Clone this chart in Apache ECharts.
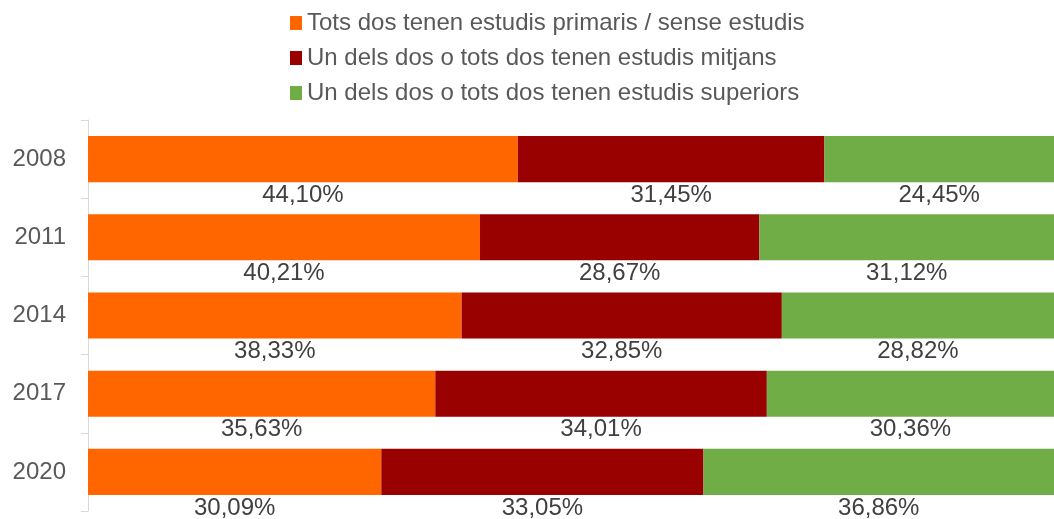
<!DOCTYPE html>
<html>
<head>
<meta charset="utf-8">
<script src="https://cdn.jsdelivr.net/npm/echarts@6/dist/echarts.min.js"></script>
<style>
  html, body { margin: 0; padding: 0; background: #fff; }
  #chart { width: 1054px; height: 519px; }
</style>
</head>
<body>
<div id="chart"></div>
<script>
// categories (top to bottom)
var years = ['2008', '2011', '2014', '2017', '2020'];
var seriesNames = [
    'Tots dos tenen estudis primaris / sense estudis',
    'Un dels dos o tots dos tenen estudis mitjans',
    'Un dels dos o tots dos tenen estudis superiors'
];
// percentages
var primaris = [44.10, 40.21, 38.33, 35.63, 30.09];
var mitjans = [31.45, 28.67, 32.85, 34.01, 33.05];
var superiors = [24.45, 31.12, 28.82, 30.36, 36.86];
var colors = ['#FF6600', '#990000', '#70AD47'];

var chart = echarts.init(document.getElementById('chart'));

function fmt(p) {
    return p.value.toFixed(2).replace('.', ',') + '%';
}

function makeSeries(name, data, color) {
    return {
        name: name,
        type: 'bar',
        stack: 'total',
        data: data,
        barCategoryGap: '41%',
        itemStyle: { color: color },
        label: {
            show: true,
            position: 'bottom',
            distance: 1,
            formatter: fmt,
            color: '#404040',
            fontSize: 24,
            fontFamily: 'Liberation Sans, Arial, sans-serif'
        }
    };
}

var option = {
    animation: false,
    backgroundColor: '#ffffff',
    legend: {
        orient: 'vertical',
        left: 285,
        top: 6,
        itemWidth: 12,
        itemHeight: 14,
        itemGap: 11,
        data: seriesNames,
        icon: 'rect',
        textStyle: {
            color: '#595959',
            fontSize: 24,
            fontFamily: 'Liberation Sans, Arial, sans-serif'
        }
    },
    grid: {
        left: 88,
        top: 120,
        right: 0,
        height: 391
    },
    // the plot area runs a little past the right edge of the picture
    xAxis: {
        type: 'value',
        min: 0,
        max: 99.1,
        show: false
    },
    yAxis: {
        type: 'category',
        data: years,
        inverse: true,
        axisLine: { show: true, lineStyle: { color: '#d9d9d9', width: 1 } },
        axisTick: { show: true, length: 7, lineStyle: { color: '#d9d9d9' } },
        axisLabel: {
            margin: 22,
            color: '#595959',
            fontSize: 24,
            fontFamily: 'Liberation Sans, Arial, sans-serif'
        }
    },
    series: [
        makeSeries(seriesNames[0], primaris, colors[0]),
        makeSeries(seriesNames[1], mitjans, colors[1]),
        makeSeries(seriesNames[2], superiors, colors[2])
    ]
};

chart.setOption(option);
</script>
</body>
</html>
